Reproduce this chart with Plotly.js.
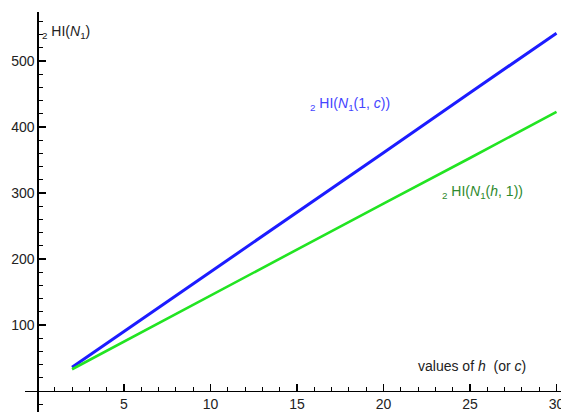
<!DOCTYPE html>
<html>
<head>
<meta charset="utf-8">
<script src="https://cdn.plot.ly/plotly-3.0.1.min.js"></script>
<style>
  html, body { margin: 0; padding: 0; background: #fff; }
  #chart { width: 561px; height: 412px; }
</style>
</head>
<body>
<div id="chart"></div>
<script>
// Values of h (or c)
const hValues = [2, 5, 10, 15, 20, 25, 30];
// 2HI(N1(1, c))
const hiN1c = [36, 90, 181, 271, 361, 452, 542];
// 2HI(N1(h, 1))
const hiN1h = [33, 75, 144, 214, 284, 353, 423];

const xTicks = [5, 10, 15, 20, 25, 30];
const yTicks = [100, 200, 300, 400, 500];

const xRange = [-0.72, 30.26];
const yRange = [-31.8, 574.2];

const font = "Liberation Sans, Arial, sans-serif";

const traces = [
  {
    x: hValues, y: hiN1c, type: "scatter", mode: "lines",
    line: { color: "#1c1cff", width: 3 }, hoverinfo: "skip"
  },
  {
    x: hValues, y: hiN1h, type: "scatter", mode: "lines",
    line: { color: "#22e422", width: 2.6 }, hoverinfo: "skip"
  }
];

// Axes cross at the origin, Mathematica-style
const xPos = (0 - yRange[0]) / (yRange[1] - yRange[0]);
const yPos = (0 - xRange[0]) / (xRange[1] - xRange[0]);

const layout = {
  width: 561, height: 412,
  margin: { l: 25, r: 0, t: 12, b: 0 },
  paper_bgcolor: "#fff", plot_bgcolor: "#fff",
  showlegend: false,
  font: { family: font, size: 14, color: "#222" },
  xaxis: {
    range: xRange, anchor: "free", position: xPos,
    showline: true, linecolor: "#000", linewidth: 1.4,
    showgrid: false, zeroline: false,
    tickmode: "array", tickvals: xTicks, ticklabeloverflow: "allow",
    ticks: "inside", ticklen: 7, tickwidth: 1.2, tickcolor: "#000",
    minor: { tickmode: "linear", tick0: 0, dtick: 1, ticks: "inside", ticklen: 4.5, tickwidth: 1, tickcolor: "#000", showgrid: false },
    tickfont: { family: font, size: 14, color: "#222" }
  },
  yaxis: {
    range: yRange, anchor: "free", position: yPos,
    showline: true, linecolor: "#000", linewidth: 1.4,
    showgrid: false, zeroline: false,
    tickmode: "array", tickvals: yTicks, ticklabeloverflow: "allow",
    ticks: "inside", ticklen: 7, tickwidth: 1.2, tickcolor: "#000",
    minor: { tickmode: "linear", tick0: 0, dtick: 20, ticks: "inside", ticklen: 4.5, tickwidth: 1, tickcolor: "#000", showgrid: false },
    tickfont: { family: font, size: 14, color: "#222" }
  },
  annotations: [
    {
      x: 0.15, y: 544, xref: "x", yref: "y", xanchor: "left", yanchor: "middle",
      text: "<sub>2</sub> HI(<i>N</i><sub>1</sub>)", showarrow: false,
      font: { family: font, size: 14, color: "#222" }
    },
    {
      x: 18.06, y: 435, xref: "x", yref: "y", xanchor: "center", yanchor: "middle",
      text: "<sub>2</sub> HI(<i>N</i><sub>1</sub>(1, <i>c</i>))", showarrow: false,
      font: { family: font, size: 14, color: "#4444ff" }
    },
    {
      x: 25.7, y: 301.5, xref: "x", yref: "y", xanchor: "center", yanchor: "middle",
      text: "<sub>2</sub> HI(<i>N</i><sub>1</sub>(<i>h</i>, 1))", showarrow: false,
      font: { family: font, size: 14, color: "#2e8a2e" }
    },
    {
      x: 25.1, y: 38, xref: "x", yref: "y", xanchor: "center", yanchor: "middle",
      text: "values of <i>h</i>  (or <i>c</i>)", showarrow: false,
      font: { family: font, size: 14, color: "#222" }
    }
  ]
};

Plotly.newPlot("chart", traces, layout, { displayModeBar: false, staticPlot: true });
</script>
</body>
</html>
